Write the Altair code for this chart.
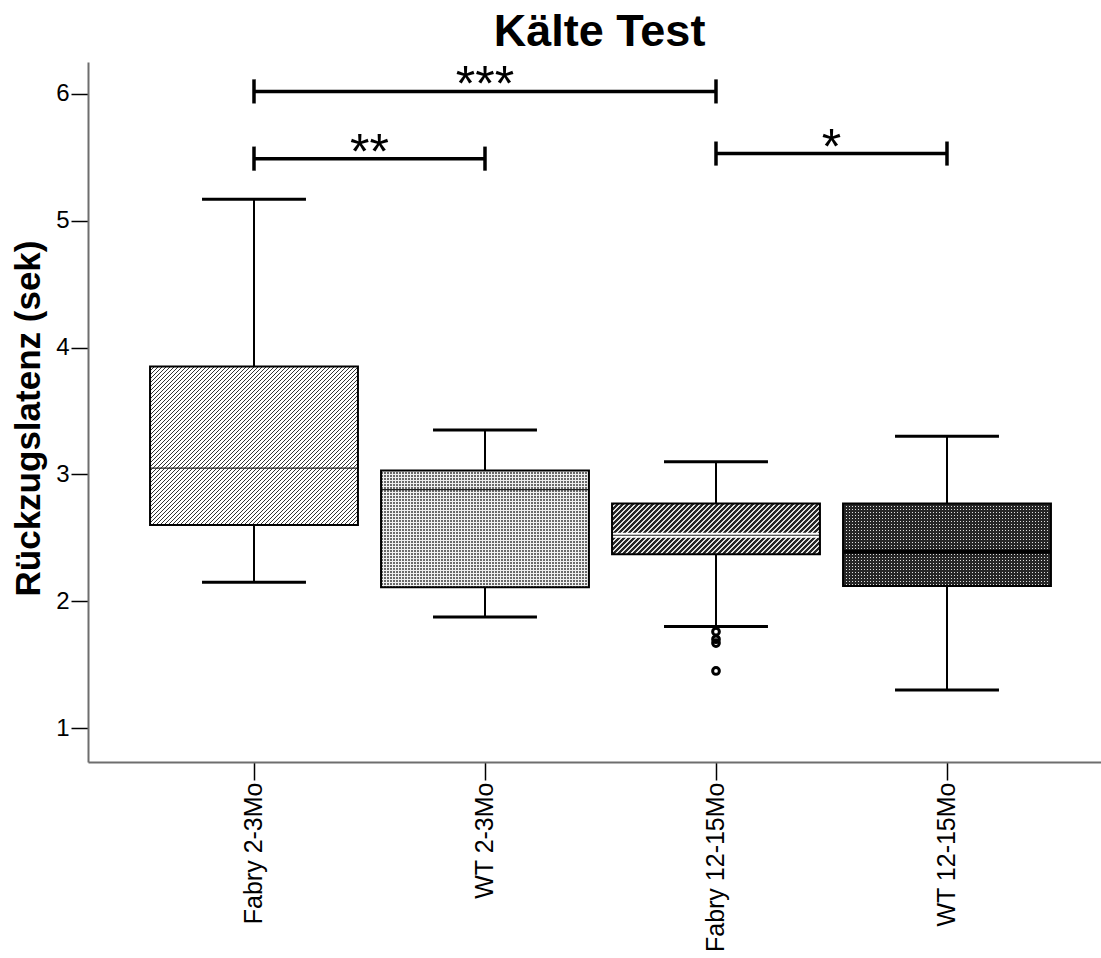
import json
import math
import altair as alt
import pandas as pd

# ---- data -------------------------------------------------------------
groups = ["Fabry 2-3Mo", "WT 2-3Mo", "Fabry 12-15Mo", "WT 12-15Mo"]
q1 = [2.60, 2.11, 2.37, 2.12]
median = [3.05, 2.88, 2.52, 2.39]
q3 = [3.85, 3.03, 2.77, 2.77]
whisker_lo = [2.15, 1.875, 1.80, 1.30]
whisker_hi = [5.17, 3.35, 3.10, 3.30]

outlier_group = [2, 2, 2, 2]
outlier_value = [1.76, 1.70, 1.67, 1.45]

bracket_from = [0, 0, 2]
bracket_to = [2, 1, 3]
bracket_y = [6.02, 5.49, 5.53]
bracket_label = ["***", "**", "*"]

# ---- layout / style ---------------------------------------------------
FONT = "Liberation Sans"
W, H = 1013, 700
X_DOM = [-0.7186, 3.6667]
Y_DOM = [0.732, 6.252]
PX_X = W / (X_DOM[1] - X_DOM[0])
PX_Y = H / (Y_DOM[1] - Y_DOM[0])
BOX_HALF = 0.45
CAP_HALF = 0.225
TICK_HALF = 0.095

idx = list(range(len(groups)))
boxes = pd.DataFrame({
    "idx": idx,
    "group": groups,
    "q1": q1, "med": median, "q3": q3,
    "lo": whisker_lo, "hi": whisker_hi,
})
boxes["x0"] = boxes["idx"] - BOX_HALF
boxes["x1"] = boxes["idx"] + BOX_HALF
boxes["c0"] = boxes["idx"] - CAP_HALF
boxes["c1"] = boxes["idx"] + CAP_HALF

outliers = pd.DataFrame({"idx": outlier_group, "v": outlier_value})

brackets = pd.DataFrame({
    "a": bracket_from, "b": bracket_to, "y": bracket_y, "label": bracket_label,
})
brackets["mid"] = (brackets["a"] + brackets["b"]) / 2
brackets["ylo"] = brackets["y"] - TICK_HALF
brackets["yhi"] = brackets["y"] + TICK_HALF
bracket_ends = pd.concat([
    brackets[["a", "ylo", "yhi"]].rename(columns={"a": "x"}),
    brackets[["b", "ylo", "yhi"]].rename(columns={"b": "x"}),
])

# ---- scales & axes ----------------------------------------------------
XS = alt.Scale(domain=X_DOM, nice=False, zero=False)
YS = alt.Scale(domain=Y_DOM, nice=False, zero=False)

X_AX = alt.Axis(
    title=None, values=idx, grid=False,
    labelExpr=json.dumps(groups) + "[datum.value]",
    labelAngle=-90, labelAlign="right", labelBaseline="middle",
    labelFont=FONT, labelFontSize=25, labelColor="black", labelPadding=2,
    labelFlush=False, labelOverlap=False, labelBound=False,
    tickSize=18, tickColor="black", tickWidth=1.5,
    domainColor="#6e6e6e", domainWidth=2,
)
Y_AX = alt.Axis(
    title="Rückzugslatenz (sek)", values=[1, 2, 3, 4, 5, 6], format="d", grid=False,
    labelFont=FONT, labelFontSize=24, labelColor="black", labelPadding=2,
    labelFlush=False,
    tickSize=17, tickColor="black", tickWidth=1.5,
    domainColor="#6e6e6e", domainWidth=2,
    titleFont=FONT, titleFontSize=35, titleFontWeight="bold", titleColor="black",
    titleAngle=-90, titleX=-60, titleY=H / 2 + 6, titleAlign="center", titleBaseline="middle",
)


def xq(field):
    return alt.X(field, type="quantitative", scale=XS, axis=X_AX)


def yq(field):
    return alt.Y(field, type="quantitative", scale=YS, axis=Y_AX)


# ---- fill textures built from gradients -----------------------------
# every stripe pattern repeats on a whole number of pixels, so the
# gradient may run a little past the box edge instead of drifting.
def stripes(n, c_on, c_off, duty, x2, y2):
    stops = []
    for i in range(n):
        a, b, c = i / n, (i + duty) / n, (i + 1) / n
        stops += [
            alt.GradientStop(offset=a, color=c_on),
            alt.GradientStop(offset=b, color=c_on),
            alt.GradientStop(offset=b, color=c_off),
            alt.GradientStop(offset=c, color=c_off),
        ]
    return alt.LinearGradient(gradient="linear", stops=stops, x1=0, y1=0, x2=x2, y2=y2)


def box_px(i):
    w = 2 * BOX_HALF * PX_X
    h = (q3[i] - q1[i]) * PX_Y
    return w, h


def diagonal(i, period, c_on, c_off, duty):
    # 45-degree "/" hatching inside box i
    w, h = box_px(i)
    n = math.ceil((w + h) / period)
    k = n * period / (w * w + h * h)
    return stripes(n, c_on, c_off, duty, w * k, h * k)


def vertical(i, period, c_on, c_off, duty):
    w, _ = box_px(i)
    n = math.ceil(w / period)
    return stripes(n, c_on, c_off, duty, n * period / w, 0)


def horizontal(i, period, c_on, c_off, duty):
    _, h = box_px(i)
    n = math.ceil(h / period)
    return stripes(n, c_on, c_off, duty, 0, n * period / h)


base = alt.Chart(boxes)


def box_fill(i, fill):
    return base.transform_filter(alt.datum.idx == i).mark_rect(fill=fill, strokeWidth=0).encode(
        x=xq("x0"), x2="x1", y=yq("q1"), y2="q3"
    )


clear = "rgba(0,0,0,0)"
fills = [
    # Fabry 2-3Mo: fine "/" hatching
    box_fill(0, diagonal(0, 4, "#333333", "#ffffff", 0.33)),
    # WT 2-3Mo: light dotted screen (dark columns masked by light rows)
    box_fill(1, vertical(1, 3, "#6a6a6a", "#f0f0f0", 0.67)),
    box_fill(1, horizontal(1, 3, "#f0f0f0", clear, 0.34)),
    # Fabry 12-15Mo: heavy "/" hatching
    box_fill(2, diagonal(2, 5, "#262626", "#e0e0e0", 0.6)),
    # WT 12-15Mo: dark screen with light dots
    box_fill(3, vertical(3, 3, "#dedede", "#262626", 0.34)),
    box_fill(3, horizontal(3, 3, "#262626", clear, 0.66)),
]

# medians: thin lines on the young groups, banded line and bold line on the older ones
med_thin = base.transform_filter(alt.datum.idx <= 1).mark_rule(color="#222222", strokeWidth=1.3).encode(
    x=xq("x0"), x2="x1", y=yq("med")
)
med_band = base.transform_filter(alt.datum.idx == 2).mark_rule(color="white", strokeWidth=5).encode(
    x=xq("x0"), x2="x1", y=yq("med")
)
med_band_line = base.transform_filter(alt.datum.idx == 2).mark_rule(color="#222222", strokeWidth=1.2).encode(
    x=xq("x0"), x2="x1", y=yq("med")
)
med_bold = base.transform_filter(alt.datum.idx == 3).mark_rule(color="black", strokeWidth=4).encode(
    x=xq("x0"), x2="x1", y=yq("med")
)

outline = base.mark_rect(fillOpacity=0, stroke="black", strokeWidth=2).encode(
    x=xq("x0"), x2="x1", y=yq("q1"), y2="q3"
)

whisk_up = base.mark_rule(color="black", strokeWidth=2).encode(x=xq("idx"), y=yq("q3"), y2="hi")
whisk_dn = base.mark_rule(color="black", strokeWidth=2).encode(x=xq("idx"), y=yq("lo"), y2="q1")
cap_hi = base.mark_rule(color="black", strokeWidth=3).encode(x=xq("c0"), x2="c1", y=yq("hi"))
cap_lo = base.mark_rule(color="black", strokeWidth=3).encode(x=xq("c0"), x2="c1", y=yq("lo"))

pts = alt.Chart(outliers).mark_point(
    shape="circle", filled=False, color="black", strokeWidth=3, size=45, opacity=1
).encode(x=xq("idx"), y=yq("v"))

br = alt.Chart(brackets)
br_line = br.mark_rule(color="black", strokeWidth=3.5).encode(x=xq("a"), x2="b", y=yq("y"))
br_ends = alt.Chart(bracket_ends).mark_rule(color="black", strokeWidth=3.5).encode(
    x=xq("x"), y=yq("ylo"), y2="yhi"
)
br_text = br.mark_text(
    font=FONT, fontSize=50, color="black",
    baseline="alphabetic", align="center", dy=10,
).encode(x=xq("mid"), y=yq("y"), text="label:N")

chart = alt.layer(
    *fills, med_thin, med_band, med_band_line, med_bold, outline,
    whisk_up, whisk_dn, cap_hi, cap_lo, pts, br_line, br_ends, br_text,
).properties(
    width=W, height=H,
    autosize=alt.AutoSizeParams(type="none"),
    padding={"left": 88, "top": 62, "right": 0, "bottom": 196},
    background="white",
    title=alt.TitleParams(
        text="Kälte Test", font=FONT, fontSize=45, fontWeight="bold", color="black",
        anchor="middle", offset=6, dx=5,
    ),
).configure_view(strokeWidth=0)

chart.save("out.html", embed_options={"renderer": "svg", "actions": False})
